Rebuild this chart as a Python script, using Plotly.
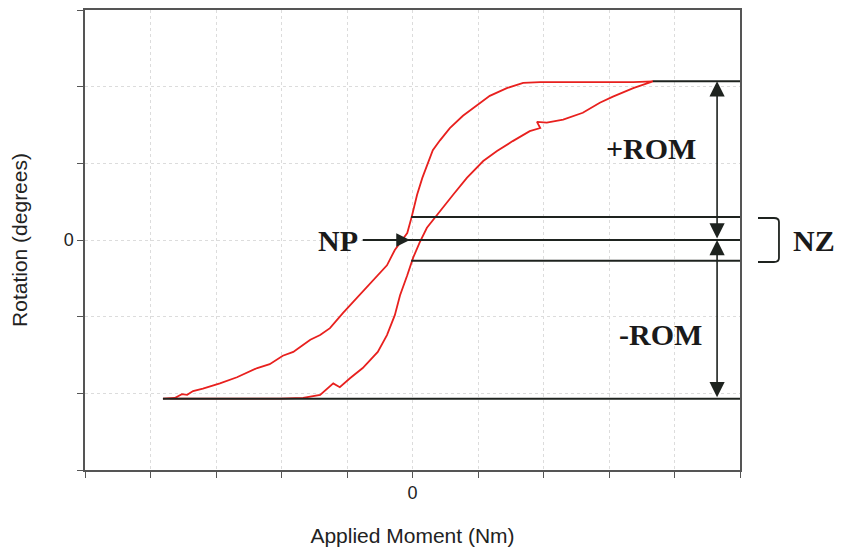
import plotly.graph_objects as go

# Hysteresis loop (Applied Moment vs Rotation)
loop_x = [-3.81, -3.63, -3.52, -3.44, -3.35, -3.20, -2.94, -2.68, -2.37, -2.18, -1.98, -1.82,
          -1.72, -1.56, -1.41, -1.26, -1.06, -0.91, -0.69, -0.53, -0.39, -0.27, -0.16, -0.08,
          -0.01, 0.07, 0.15, 0.22, 0.31, 0.42, 0.57, 0.77, 0.98, 1.18, 1.44, 1.69, 1.95, 2.36,
          2.86, 3.37, 3.67,
          3.37, 3.06, 2.86, 2.60, 2.30, 2.05, 1.90, 1.95, 1.79, 1.53, 1.29, 1.08, 0.83, 0.62,
          0.42, 0.22, 0.11, 0.01, -0.08, -0.19, -0.27, -0.39, -0.53, -0.76, -0.95, -1.11,
          -1.21, -1.41, -1.67, -2.02, -2.63, -3.24, -3.70]
loop_y = [-2.07, -2.06, -2.01, -2.02, -1.97, -1.94, -1.87, -1.79, -1.67, -1.62, -1.51, -1.46,
          -1.40, -1.30, -1.24, -1.15, -0.95, -0.81, -0.61, -0.46, -0.33, -0.13, 0.00, 0.09,
          0.31, 0.59, 0.81, 0.98, 1.17, 1.30, 1.46, 1.62, 1.75, 1.88, 1.98, 2.05, 2.06, 2.06,
          2.06, 2.06, 2.07,
          1.98, 1.87, 1.79, 1.66, 1.57, 1.53, 1.54, 1.46, 1.42, 1.29, 1.16, 1.03, 0.81, 0.59,
          0.38, 0.16, -0.03, -0.23, -0.46, -0.72, -0.98, -1.24, -1.46, -1.67, -1.80, -1.92,
          -1.87, -2.02, -2.06, -2.07, -2.07, -2.07, -2.07]

# Reference levels (degrees)
pos_rom = 2.07
neg_rom = -2.07
nz_upper = 0.30
nz_lower = -0.27
np_level = 0.0

# Starting moments of the reference lines
pos_rom_start = 3.67
neg_rom_start = -3.81
nz_start = -0.02
np_arrow_start = -0.76
np_arrow_tip = -0.04
rom_arrow_x = 4.65

x_ticks = [-5, -4, -3, -2, -1, 0, 1, 2, 3, 4, 5]
x_ticktext = ["", "", "", "", "", "0", "", "", "", "", ""]
y_ticks = [-3, -2, -1, 0, 1, 2, 3]
y_ticktext = ["", "", "", "0", "", "", ""]

LINE = "#1e231f"
RED = "#e8201e"
SERIF = "Liberation Serif, Times New Roman, serif"
SANS = "Liberation Sans, Arial, sans-serif"

fig = go.Figure()
fig.add_trace(go.Scatter(x=loop_x, y=loop_y, mode="lines",
                         line=dict(color=RED, width=1.8), showlegend=False,
                         hoverinfo="skip"))

# Horizontal reference lines
for x0, yv in [(pos_rom_start, pos_rom), (neg_rom_start, neg_rom),
               (nz_start, nz_upper), (nz_start, nz_lower), (np_arrow_start, np_level)]:
    fig.add_shape(type="line", x0=x0, x1=5, y0=yv, y1=yv, xref="x", yref="y",
                  line=dict(color=LINE, width=2), layer="above")

# ROM arrows
for y_a, y_b in [(pos_rom, np_level), (np_level, neg_rom)]:
    fig.add_annotation(x=rom_arrow_x, y=y_a, ax=rom_arrow_x, ay=y_b, axref="x", ayref="y",
                       xref="x", yref="y", text="", showarrow=True, arrowhead=2,
                       arrowside="end+start", arrowsize=1.9, arrowwidth=1.6, arrowcolor=LINE)

# NP arrow
fig.add_annotation(x=np_arrow_tip, y=np_level, ax=np_arrow_start, ay=np_level,
                   axref="x", ayref="y", xref="x", yref="y", text="", showarrow=True,
                   arrowhead=2, arrowsize=1.7, arrowwidth=1.6, arrowcolor=LINE)

labels = [("+ROM", 3.64, 1.20, "center"), ("-ROM", 3.78, -1.23, "center"),
          ("NP", -0.80, 0.0, "right")]
for txt, xv, yv, anchor in labels:
    fig.add_annotation(x=xv, y=yv, xref="x", yref="y", text="<b>" + txt + "</b>",
                       showarrow=False, xanchor=anchor, yanchor="middle",
                       font=dict(family=SERIF, size=30, color="#1a1a1a"))

fig.add_annotation(x=1.113, y=0.0, xref="paper", yref="y", text="<b>NZ</b>", showarrow=False,
                   xanchor="center", yanchor="middle",
                   font=dict(family=SERIF, size=30, color="#1a1a1a"))

# NZ bracket
fig.add_shape(type="path", xref="paper", yref="paper",
              path="M 1.0275,0.5478 L 1.0519,0.5478 Q 1.0595,0.5478 1.0595,0.5391 "
                   "L 1.0595,0.4609 Q 1.0595,0.4522 1.0519,0.4522 L 1.0275,0.4522",
              line=dict(color=LINE, width=1.8))

axis_common = dict(showline=True, linecolor="#555555", linewidth=1.5, mirror=True,
                   showgrid=True, gridcolor="#dcdcdc", griddash="3px,3px", gridwidth=1,
                   zeroline=False, ticks="outside", ticklen=6, tickcolor="#555555",
                   automargin=False,
                   tickfont=dict(family=SANS, size=18, color="#222222"))

fig.update_xaxes(range=[-5, 5], tickvals=x_ticks, ticktext=x_ticktext,
                 title=dict(text="Applied Moment (Nm)", standoff=26,
                            font=dict(family=SANS, size=21, color="#222222")),
                 **axis_common)
fig.update_yaxes(range=[-3, 3], tickvals=y_ticks, ticktext=y_ticktext,
                 title=dict(text="Rotation (degrees)", standoff=30,
                            font=dict(family=SANS, size=21, color="#222222")),
                 **axis_common)

fig.update_layout(width=841, height=549, margin=dict(l=85, r=101, t=10, b=79),
                  plot_bgcolor="white", paper_bgcolor="white", showlegend=False)

fig.write_html("out.html", config={"displayModeBar": False},
               post_script="document.body.style.margin='0';document.body.style.overflow='hidden';")
